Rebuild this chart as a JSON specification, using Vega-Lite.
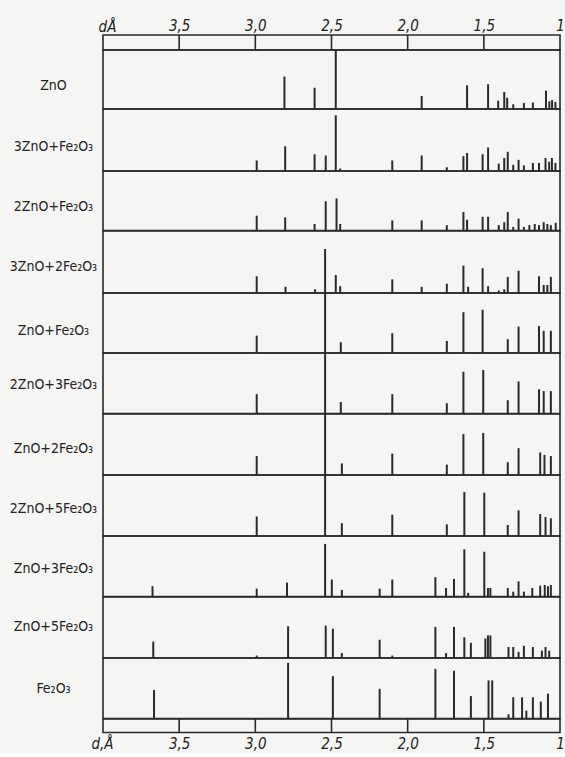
{
 "$schema": "https://vega.github.io/schema/vega-lite/v6.json",
 "background": "#f5f5f3",
 "padding": {"left": 8, "top": 17, "right": 0, "bottom": 0},
 "spacing": 0,
 "bounds": "flush",
 "data": {"name": "peaks"},
 "datasets": {
  "ticks": [{"d": 3.5}, {"d": 3.0}, {"d": 2.5}, {"d": 2.0}, {"d": 1.5}],
  "peaks": [
   {"s": "ZnO", "d": 2.809, "i": 0.55}, {"s": "ZnO", "d": 2.611, "i": 0.36}, {"s": "ZnO", "d": 2.472, "i": 1.0}, {"s": "ZnO", "d": 1.908, "i": 0.22}, {"s": "ZnO", "d": 1.610, "i": 0.40}, {"s": "ZnO", "d": 1.472, "i": 0.42}, {"s": "ZnO", "d": 1.406, "i": 0.14}, {"s": "ZnO", "d": 1.366, "i": 0.29}, {"s": "ZnO", "d": 1.347, "i": 0.19}, {"s": "ZnO", "d": 1.307, "i": 0.08}, {"s": "ZnO", "d": 1.237, "i": 0.10}, {"s": "ZnO", "d": 1.178, "i": 0.11}, {"s": "ZnO", "d": 1.092, "i": 0.31}, {"s": "ZnO", "d": 1.070, "i": 0.13}, {"s": "ZnO", "d": 1.052, "i": 0.15}, {"s": "ZnO", "d": 1.030, "i": 0.12},

   {"s": "3ZnO+Fe₂O₃", "d": 2.991, "i": 0.17}, {"s": "3ZnO+Fe₂O₃", "d": 2.804, "i": 0.40}, {"s": "3ZnO+Fe₂O₃", "d": 2.611, "i": 0.27}, {"s": "3ZnO+Fe₂O₃", "d": 2.538, "i": 0.25}, {"s": "3ZnO+Fe₂O₃", "d": 2.472, "i": 0.90}, {"s": "3ZnO+Fe₂O₃", "d": 2.443, "i": 0.04}, {"s": "3ZnO+Fe₂O₃", "d": 2.101, "i": 0.17}, {"s": "3ZnO+Fe₂O₃", "d": 1.908, "i": 0.25}, {"s": "3ZnO+Fe₂O₃", "d": 1.743, "i": 0.06}, {"s": "3ZnO+Fe₂O₃", "d": 1.634, "i": 0.24}, {"s": "3ZnO+Fe₂O₃", "d": 1.610, "i": 0.29}, {"s": "3ZnO+Fe₂O₃", "d": 1.508, "i": 0.27}, {"s": "3ZnO+Fe₂O₃", "d": 1.472, "i": 0.38}, {"s": "3ZnO+Fe₂O₃", "d": 1.402, "i": 0.12}, {"s": "3ZnO+Fe₂O₃", "d": 1.366, "i": 0.21}, {"s": "3ZnO+Fe₂O₃", "d": 1.343, "i": 0.31}, {"s": "3ZnO+Fe₂O₃", "d": 1.307, "i": 0.10}, {"s": "3ZnO+Fe₂O₃", "d": 1.272, "i": 0.18}, {"s": "3ZnO+Fe₂O₃", "d": 1.237, "i": 0.09}, {"s": "3ZnO+Fe₂O₃", "d": 1.178, "i": 0.13}, {"s": "3ZnO+Fe₂O₃", "d": 1.138, "i": 0.13}, {"s": "3ZnO+Fe₂O₃", "d": 1.095, "i": 0.21}, {"s": "3ZnO+Fe₂O₃", "d": 1.071, "i": 0.15}, {"s": "3ZnO+Fe₂O₃", "d": 1.053, "i": 0.21}, {"s": "3ZnO+Fe₂O₃", "d": 1.030, "i": 0.13},

   {"s": "2ZnO+Fe₂O₃", "d": 2.991, "i": 0.25}, {"s": "2ZnO+Fe₂O₃", "d": 2.804, "i": 0.22}, {"s": "2ZnO+Fe₂O₃", "d": 2.611, "i": 0.11}, {"s": "2ZnO+Fe₂O₃", "d": 2.538, "i": 0.49}, {"s": "2ZnO+Fe₂O₃", "d": 2.467, "i": 0.54}, {"s": "2ZnO+Fe₂O₃", "d": 2.443, "i": 0.11}, {"s": "2ZnO+Fe₂O₃", "d": 2.101, "i": 0.17}, {"s": "2ZnO+Fe₂O₃", "d": 1.908, "i": 0.17}, {"s": "2ZnO+Fe₂O₃", "d": 1.743, "i": 0.09}, {"s": "2ZnO+Fe₂O₃", "d": 1.634, "i": 0.31}, {"s": "2ZnO+Fe₂O₃", "d": 1.610, "i": 0.18}, {"s": "2ZnO+Fe₂O₃", "d": 1.508, "i": 0.23}, {"s": "2ZnO+Fe₂O₃", "d": 1.472, "i": 0.23}, {"s": "2ZnO+Fe₂O₃", "d": 1.402, "i": 0.09}, {"s": "2ZnO+Fe₂O₃", "d": 1.366, "i": 0.14}, {"s": "2ZnO+Fe₂O₃", "d": 1.343, "i": 0.31}, {"s": "2ZnO+Fe₂O₃", "d": 1.307, "i": 0.06}, {"s": "2ZnO+Fe₂O₃", "d": 1.272, "i": 0.20}, {"s": "2ZnO+Fe₂O₃", "d": 1.237, "i": 0.06}, {"s": "2ZnO+Fe₂O₃", "d": 1.201, "i": 0.09}, {"s": "2ZnO+Fe₂O₃", "d": 1.166, "i": 0.11}, {"s": "2ZnO+Fe₂O₃", "d": 1.138, "i": 0.09}, {"s": "2ZnO+Fe₂O₃", "d": 1.107, "i": 0.14}, {"s": "2ZnO+Fe₂O₃", "d": 1.083, "i": 0.11}, {"s": "2ZnO+Fe₂O₃", "d": 1.060, "i": 0.09}, {"s": "2ZnO+Fe₂O₃", "d": 1.028, "i": 0.13},

   {"s": "3ZnO+2Fe₂O₃", "d": 2.991, "i": 0.27}, {"s": "3ZnO+2Fe₂O₃", "d": 2.802, "i": 0.10}, {"s": "3ZnO+2Fe₂O₃", "d": 2.608, "i": 0.06}, {"s": "3ZnO+2Fe₂O₃", "d": 2.542, "i": 0.71}, {"s": "3ZnO+2Fe₂O₃", "d": 2.472, "i": 0.29}, {"s": "3ZnO+2Fe₂O₃", "d": 2.443, "i": 0.11}, {"s": "3ZnO+2Fe₂O₃", "d": 2.101, "i": 0.22}, {"s": "3ZnO+2Fe₂O₃", "d": 1.908, "i": 0.10}, {"s": "3ZnO+2Fe₂O₃", "d": 1.743, "i": 0.15}, {"s": "3ZnO+2Fe₂O₃", "d": 1.634, "i": 0.44}, {"s": "3ZnO+2Fe₂O₃", "d": 1.603, "i": 0.10}, {"s": "3ZnO+2Fe₂O₃", "d": 1.508, "i": 0.40}, {"s": "3ZnO+2Fe₂O₃", "d": 1.472, "i": 0.11}, {"s": "3ZnO+2Fe₂O₃", "d": 1.402, "i": 0.04}, {"s": "3ZnO+2Fe₂O₃", "d": 1.366, "i": 0.06}, {"s": "3ZnO+2Fe₂O₃", "d": 1.343, "i": 0.26}, {"s": "3ZnO+2Fe₂O₃", "d": 1.272, "i": 0.36}, {"s": "3ZnO+2Fe₂O₃", "d": 1.138, "i": 0.27}, {"s": "3ZnO+2Fe₂O₃", "d": 1.107, "i": 0.13}, {"s": "3ZnO+2Fe₂O₃", "d": 1.083, "i": 0.13}, {"s": "3ZnO+2Fe₂O₃", "d": 1.060, "i": 0.26},

   {"s": "ZnO+Fe₂O₃", "d": 2.991, "i": 0.29}, {"s": "ZnO+Fe₂O₃", "d": 2.542, "i": 1.0}, {"s": "ZnO+Fe₂O₃", "d": 2.439, "i": 0.18}, {"s": "ZnO+Fe₂O₃", "d": 2.101, "i": 0.33}, {"s": "ZnO+Fe₂O₃", "d": 1.743, "i": 0.20}, {"s": "ZnO+Fe₂O₃", "d": 1.634, "i": 0.68}, {"s": "ZnO+Fe₂O₃", "d": 1.508, "i": 0.72}, {"s": "ZnO+Fe₂O₃", "d": 1.343, "i": 0.23}, {"s": "ZnO+Fe₂O₃", "d": 1.272, "i": 0.44}, {"s": "ZnO+Fe₂O₃", "d": 1.138, "i": 0.45}, {"s": "ZnO+Fe₂O₃", "d": 1.107, "i": 0.37}, {"s": "ZnO+Fe₂O₃", "d": 1.060, "i": 0.37},

   {"s": "2ZnO+3Fe₂O₃", "d": 2.991, "i": 0.32}, {"s": "2ZnO+3Fe₂O₃", "d": 2.542, "i": 1.0}, {"s": "2ZnO+3Fe₂O₃", "d": 2.439, "i": 0.19}, {"s": "2ZnO+3Fe₂O₃", "d": 2.101, "i": 0.32}, {"s": "2ZnO+3Fe₂O₃", "d": 1.743, "i": 0.17}, {"s": "2ZnO+3Fe₂O₃", "d": 1.634, "i": 0.69}, {"s": "2ZnO+3Fe₂O₃", "d": 1.504, "i": 0.72}, {"s": "2ZnO+3Fe₂O₃", "d": 1.343, "i": 0.22}, {"s": "2ZnO+3Fe₂O₃", "d": 1.272, "i": 0.53}, {"s": "2ZnO+3Fe₂O₃", "d": 1.138, "i": 0.40}, {"s": "2ZnO+3Fe₂O₃", "d": 1.107, "i": 0.37}, {"s": "2ZnO+3Fe₂O₃", "d": 1.060, "i": 0.37},

   {"s": "ZnO+2Fe₂O₃", "d": 2.991, "i": 0.31}, {"s": "ZnO+2Fe₂O₃", "d": 2.542, "i": 1.0}, {"s": "ZnO+2Fe₂O₃", "d": 2.432, "i": 0.19}, {"s": "ZnO+2Fe₂O₃", "d": 2.101, "i": 0.35}, {"s": "ZnO+2Fe₂O₃", "d": 1.743, "i": 0.17}, {"s": "ZnO+2Fe₂O₃", "d": 1.634, "i": 0.67}, {"s": "ZnO+2Fe₂O₃", "d": 1.504, "i": 0.69}, {"s": "ZnO+2Fe₂O₃", "d": 1.343, "i": 0.21}, {"s": "ZnO+2Fe₂O₃", "d": 1.272, "i": 0.44}, {"s": "ZnO+2Fe₂O₃", "d": 1.130, "i": 0.37}, {"s": "ZnO+2Fe₂O₃", "d": 1.102, "i": 0.33}, {"s": "ZnO+2Fe₂O₃", "d": 1.060, "i": 0.31},

   {"s": "2ZnO+5Fe₂O₃", "d": 2.991, "i": 0.32}, {"s": "2ZnO+5Fe₂O₃", "d": 2.542, "i": 1.0}, {"s": "2ZnO+5Fe₂O₃", "d": 2.432, "i": 0.21}, {"s": "2ZnO+5Fe₂O₃", "d": 2.101, "i": 0.35}, {"s": "2ZnO+5Fe₂O₃", "d": 1.743, "i": 0.19}, {"s": "2ZnO+5Fe₂O₃", "d": 1.628, "i": 0.72}, {"s": "2ZnO+5Fe₂O₃", "d": 1.497, "i": 0.71}, {"s": "2ZnO+5Fe₂O₃", "d": 1.343, "i": 0.18}, {"s": "2ZnO+5Fe₂O₃", "d": 1.272, "i": 0.42}, {"s": "2ZnO+5Fe₂O₃", "d": 1.130, "i": 0.36}, {"s": "2ZnO+5Fe₂O₃", "d": 1.095, "i": 0.31}, {"s": "2ZnO+5Fe₂O₃", "d": 1.060, "i": 0.29},

   {"s": "ZnO+3Fe₂O₃", "d": 3.675, "i": 0.17}, {"s": "ZnO+3Fe₂O₃", "d": 2.991, "i": 0.13}, {"s": "ZnO+3Fe₂O₃", "d": 2.792, "i": 0.23}, {"s": "ZnO+3Fe₂O₃", "d": 2.542, "i": 0.87}, {"s": "ZnO+3Fe₂O₃", "d": 2.498, "i": 0.28}, {"s": "ZnO+3Fe₂O₃", "d": 2.432, "i": 0.11}, {"s": "ZnO+3Fe₂O₃", "d": 2.184, "i": 0.13}, {"s": "ZnO+3Fe₂O₃", "d": 2.101, "i": 0.28}, {"s": "ZnO+3Fe₂O₃", "d": 1.818, "i": 0.32}, {"s": "ZnO+3Fe₂O₃", "d": 1.748, "i": 0.14}, {"s": "ZnO+3Fe₂O₃", "d": 1.696, "i": 0.29}, {"s": "ZnO+3Fe₂O₃", "d": 1.628, "i": 0.78}, {"s": "ZnO+3Fe₂O₃", "d": 1.603, "i": 0.06}, {"s": "ZnO+3Fe₂O₃", "d": 1.497, "i": 0.74}, {"s": "ZnO+3Fe₂O₃", "d": 1.473, "i": 0.14}, {"s": "ZnO+3Fe₂O₃", "d": 1.457, "i": 0.14}, {"s": "ZnO+3Fe₂O₃", "d": 1.343, "i": 0.14}, {"s": "ZnO+3Fe₂O₃", "d": 1.307, "i": 0.08}, {"s": "ZnO+3Fe₂O₃", "d": 1.272, "i": 0.25}, {"s": "ZnO+3Fe₂O₃", "d": 1.237, "i": 0.08}, {"s": "ZnO+3Fe₂O₃", "d": 1.182, "i": 0.14}, {"s": "ZnO+3Fe₂O₃", "d": 1.130, "i": 0.18}, {"s": "ZnO+3Fe₂O₃", "d": 1.100, "i": 0.19}, {"s": "ZnO+3Fe₂O₃", "d": 1.079, "i": 0.17}, {"s": "ZnO+3Fe₂O₃", "d": 1.060, "i": 0.19},

   {"s": "ZnO+5Fe₂O₃", "d": 3.670, "i": 0.27}, {"s": "ZnO+5Fe₂O₃", "d": 2.991, "i": 0.04}, {"s": "ZnO+5Fe₂O₃", "d": 2.785, "i": 0.52}, {"s": "ZnO+5Fe₂O₃", "d": 2.538, "i": 0.53}, {"s": "ZnO+5Fe₂O₃", "d": 2.491, "i": 0.48}, {"s": "ZnO+5Fe₂O₃", "d": 2.432, "i": 0.08}, {"s": "ZnO+5Fe₂O₃", "d": 2.184, "i": 0.30}, {"s": "ZnO+5Fe₂O₃", "d": 2.101, "i": 0.04}, {"s": "ZnO+5Fe₂O₃", "d": 1.818, "i": 0.51}, {"s": "ZnO+5Fe₂O₃", "d": 1.748, "i": 0.08}, {"s": "ZnO+5Fe₂O₃", "d": 1.696, "i": 0.51}, {"s": "ZnO+5Fe₂O₃", "d": 1.628, "i": 0.34}, {"s": "ZnO+5Fe₂O₃", "d": 1.585, "i": 0.25}, {"s": "ZnO+5Fe₂O₃", "d": 1.490, "i": 0.32}, {"s": "ZnO+5Fe₂O₃", "d": 1.473, "i": 0.37}, {"s": "ZnO+5Fe₂O₃", "d": 1.457, "i": 0.37}, {"s": "ZnO+5Fe₂O₃", "d": 1.338, "i": 0.18}, {"s": "ZnO+5Fe₂O₃", "d": 1.307, "i": 0.18}, {"s": "ZnO+5Fe₂O₃", "d": 1.272, "i": 0.10}, {"s": "ZnO+5Fe₂O₃", "d": 1.237, "i": 0.20}, {"s": "ZnO+5Fe₂O₃", "d": 1.178, "i": 0.18}, {"s": "ZnO+5Fe₂O₃", "d": 1.119, "i": 0.12}, {"s": "ZnO+5Fe₂O₃", "d": 1.095, "i": 0.18}, {"s": "ZnO+5Fe₂O₃", "d": 1.071, "i": 0.12},

   {"s": "Fe₂O₃", "d": 3.665, "i": 0.47}, {"s": "Fe₂O₃", "d": 2.785, "i": 0.92}, {"s": "Fe₂O₃", "d": 2.491, "i": 0.70}, {"s": "Fe₂O₃", "d": 2.184, "i": 0.49}, {"s": "Fe₂O₃", "d": 1.818, "i": 0.82}, {"s": "Fe₂O₃", "d": 1.696, "i": 0.79}, {"s": "Fe₂O₃", "d": 1.585, "i": 0.37}, {"s": "Fe₂O₃", "d": 1.469, "i": 0.63}, {"s": "Fe₂O₃", "d": 1.445, "i": 0.63}, {"s": "Fe₂O₃", "d": 1.338, "i": 0.07}, {"s": "Fe₂O₃", "d": 1.307, "i": 0.35}, {"s": "Fe₂O₃", "d": 1.249, "i": 0.35}, {"s": "Fe₂O₃", "d": 1.221, "i": 0.13}, {"s": "Fe₂O₃", "d": 1.178, "i": 0.35}, {"s": "Fe₂O₃", "d": 1.126, "i": 0.28}, {"s": "Fe₂O₃", "d": 1.079, "i": 0.41}
  ]
 },
 "vconcat": [
  {
   "height": 15,
   "data": {"name": "ticks"},
   "mark": {"type": "rule", "color": "#2a2a2a", "strokeWidth": 1.6},
   "encoding": {
    "x": {"field": "d", "type": "quantitative",
     "scale": {"domain": [4, 1], "nice": false, "zero": false},
     "axis": {"orient": "top", "values": [3.5, 3, 2.5, 2, 1.5, 1],
      "labelExpr": "datum.value == 1 ? '1' : replace(format(datum.value, '.1f'), '.', ',')",
      "domain": false, "ticks": false, "grid": false, "labelPadding": 2,
      "labelFontSize": 15, "labelFontStyle": "italic", "labelColor": "#222", "labelFont": "DejaVu Sans Condensed",
      "labelFlush": false, "labelOverlap": false,
      "title": "dÅ", "titleAngle": 0, "titleAnchor": "start", "titleAlign": "center", "titleBaseline": "alphabetic",
      "titleX": 4, "titleY": -4, "titleFontSize": 15, "titleFontStyle": "italic", "titleFontWeight": "normal", "titleColor": "#222", "titleFont": "DejaVu Sans Condensed"}
    }
   }
  },
  {"height": 59, "transform": [{"filter": "datum.s === 'ZnO'"}], "mark": {"type": "rule", "color": "#2a2a2a", "strokeWidth": 2},
   "encoding": {"x": {"field": "d", "type": "quantitative", "scale": {"domain": [4, 1], "nice": false, "zero": false}, "axis": null},
    "y": {"field": "i", "type": "quantitative", "scale": {"domain": [0, 1], "nice": false}, "axis": {"values": [0.39], "labelExpr": "'ZnO'", "title": null}}, "y2": {"datum": 0}}},
  {"height": 62, "transform": [{"filter": "datum.s === '3ZnO+Fe₂O₃'"}], "mark": {"type": "rule", "color": "#2a2a2a", "strokeWidth": 2},
   "encoding": {"x": {"field": "d", "type": "quantitative", "scale": {"domain": [4, 1], "nice": false, "zero": false}, "axis": null},
    "y": {"field": "i", "type": "quantitative", "scale": {"domain": [0, 1], "nice": false}, "axis": {"values": [0.39], "labelExpr": "'3ZnO+Fe₂O₃'", "title": null}}, "y2": {"datum": 0}}},
  {"height": 59.5, "transform": [{"filter": "datum.s === '2ZnO+Fe₂O₃'"}], "mark": {"type": "rule", "color": "#2a2a2a", "strokeWidth": 2},
   "encoding": {"x": {"field": "d", "type": "quantitative", "scale": {"domain": [4, 1], "nice": false, "zero": false}, "axis": null},
    "y": {"field": "i", "type": "quantitative", "scale": {"domain": [0, 1], "nice": false}, "axis": {"values": [0.40], "labelExpr": "'2ZnO+Fe₂O₃'", "title": null}}, "y2": {"datum": 0}}},
  {"height": 62, "transform": [{"filter": "datum.s === '3ZnO+2Fe₂O₃'"}], "mark": {"type": "rule", "color": "#2a2a2a", "strokeWidth": 2},
   "encoding": {"x": {"field": "d", "type": "quantitative", "scale": {"domain": [4, 1], "nice": false, "zero": false}, "axis": null},
    "y": {"field": "i", "type": "quantitative", "scale": {"domain": [0, 1], "nice": false}, "axis": {"values": [0.42], "labelExpr": "'3ZnO+2Fe₂O₃'", "title": null}}, "y2": {"datum": 0}}},
  {"height": 60, "transform": [{"filter": "datum.s === 'ZnO+Fe₂O₃'"}], "mark": {"type": "rule", "color": "#2a2a2a", "strokeWidth": 2},
   "encoding": {"x": {"field": "d", "type": "quantitative", "scale": {"domain": [4, 1], "nice": false, "zero": false}, "axis": null},
    "y": {"field": "i", "type": "quantitative", "scale": {"domain": [0, 1], "nice": false}, "axis": {"values": [0.38], "labelExpr": "'ZnO+Fe₂O₃'", "title": null}}, "y2": {"datum": 0}}},
  {"height": 60.5, "transform": [{"filter": "datum.s === '2ZnO+3Fe₂O₃'"}], "mark": {"type": "rule", "color": "#2a2a2a", "strokeWidth": 2},
   "encoding": {"x": {"field": "d", "type": "quantitative", "scale": {"domain": [4, 1], "nice": false, "zero": false}, "axis": null},
    "y": {"field": "i", "type": "quantitative", "scale": {"domain": [0, 1], "nice": false}, "axis": {"values": [0.48], "labelExpr": "'2ZnO+3Fe₂O₃'", "title": null}}, "y2": {"datum": 0}}},
  {"height": 61, "transform": [{"filter": "datum.s === 'ZnO+2Fe₂O₃'"}], "mark": {"type": "rule", "color": "#2a2a2a", "strokeWidth": 2},
   "encoding": {"x": {"field": "d", "type": "quantitative", "scale": {"domain": [4, 1], "nice": false, "zero": false}, "axis": null},
    "y": {"field": "i", "type": "quantitative", "scale": {"domain": [0, 1], "nice": false}, "axis": {"values": [0.43], "labelExpr": "'ZnO+2Fe₂O₃'", "title": null}}, "y2": {"datum": 0}}},
  {"height": 61, "transform": [{"filter": "datum.s === '2ZnO+5Fe₂O₃'"}], "mark": {"type": "rule", "color": "#2a2a2a", "strokeWidth": 2},
   "encoding": {"x": {"field": "d", "type": "quantitative", "scale": {"domain": [4, 1], "nice": false, "zero": false}, "axis": null},
    "y": {"field": "i", "type": "quantitative", "scale": {"domain": [0, 1], "nice": false}, "axis": {"values": [0.45], "labelExpr": "'2ZnO+5Fe₂O₃'", "title": null}}, "y2": {"datum": 0}}},
  {"height": 60.5, "transform": [{"filter": "datum.s === 'ZnO+3Fe₂O₃'"}], "mark": {"type": "rule", "color": "#2a2a2a", "strokeWidth": 2},
   "encoding": {"x": {"field": "d", "type": "quantitative", "scale": {"domain": [4, 1], "nice": false, "zero": false}, "axis": null},
    "y": {"field": "i", "type": "quantitative", "scale": {"domain": [0, 1], "nice": false}, "axis": {"values": [0.46], "labelExpr": "'ZnO+3Fe₂O₃'", "title": null}}, "y2": {"datum": 0}}},
  {"height": 61, "transform": [{"filter": "datum.s === 'ZnO+5Fe₂O₃'"}], "mark": {"type": "rule", "color": "#2a2a2a", "strokeWidth": 2},
   "encoding": {"x": {"field": "d", "type": "quantitative", "scale": {"domain": [4, 1], "nice": false, "zero": false}, "axis": null},
    "y": {"field": "i", "type": "quantitative", "scale": {"domain": [0, 1], "nice": false}, "axis": {"values": [0.51], "labelExpr": "'ZnO+5Fe₂O₃'", "title": null}}, "y2": {"datum": 0}}},
  {"height": 60.5, "transform": [{"filter": "datum.s === 'Fe₂O₃'"}], "mark": {"type": "rule", "color": "#2a2a2a", "strokeWidth": 2},
   "encoding": {"x": {"field": "d", "type": "quantitative", "scale": {"domain": [4, 1], "nice": false, "zero": false}, "axis": null},
    "y": {"field": "i", "type": "quantitative", "scale": {"domain": [0, 1], "nice": false}, "axis": {"values": [0.49], "labelExpr": "'Fe₂O₃'", "title": null}}, "y2": {"datum": 0}}},
  {
   "height": 13.5,
   "data": {"name": "ticks"},
   "mark": {"type": "rule", "color": "#2a2a2a", "strokeWidth": 1.6},
   "encoding": {
    "x": {"field": "d", "type": "quantitative",
     "scale": {"domain": [4, 1], "nice": false, "zero": false},
     "axis": {"orient": "bottom", "values": [3.5, 3, 2.5, 2, 1.5, 1],
      "labelExpr": "datum.value == 1 ? '1' : replace(format(datum.value, '.1f'), '.', ',')",
      "domain": false, "ticks": false, "grid": false, "labelPadding": 4,
      "labelFontSize": 15, "labelFontStyle": "italic", "labelColor": "#222", "labelFont": "DejaVu Sans Condensed",
      "labelFlush": false, "labelOverlap": false,
      "title": "d,Å", "titleAngle": 0, "titleAnchor": "start", "titleAlign": "center", "titleBaseline": "top",
      "titleX": -1, "titleY": 4, "titleFontSize": 15, "titleFontStyle": "italic", "titleFontWeight": "normal", "titleColor": "#222", "titleFont": "DejaVu Sans Condensed"}
    }
   }
  }
 ],
 "config": {
  "view": {"stroke": "#2a2a2a", "strokeWidth": 1.6, "continuousWidth": 457},
  "concat": {"spacing": 0},
  "axisY": {"ticks": false, "domain": false, "grid": false, "labelPadding": 50, "labelAlign": "center", "labelBaseline": "middle",
   "labelFontSize": 14, "labelFont": "DejaVu Sans Condensed", "labelColor": "#222", "labelFlush": false, "labelOverlap": false, "labelBound": false}
 }
}
